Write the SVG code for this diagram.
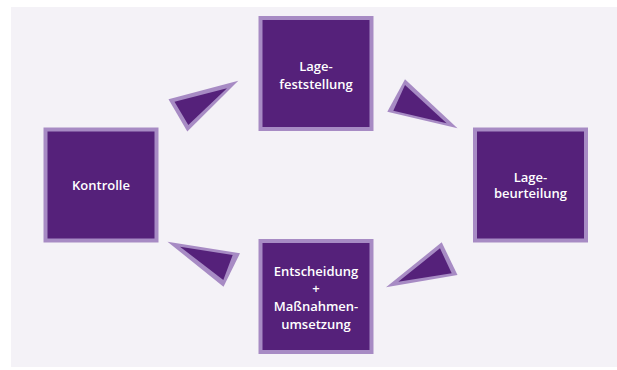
<svg xmlns="http://www.w3.org/2000/svg" width="617" height="370" viewBox="0 0 617 370">
  <style>
    .box { fill: #55217a; stroke: #a78bc4; stroke-width: 4; }
    .tri-o { fill: #a78bc4; }
    .tri-i { fill: #55217a; }
    .lbl { fill: #ffffff; font-family: "Open Sans", "Liberation Sans", sans-serif; font-size: 13px; font-weight: 600; text-anchor: middle; }
  </style>
  <rect x="0" y="0" width="617" height="370" fill="#ffffff"/>
  <rect x="11" y="7" width="606" height="360" fill="#f4f2f7"/>

  <g id="connectors">
    <g id="c-kontrolle-lagefeststellung">
      <polygon class="tri-o" points="238.3,80.7 168.5,99.3 187.3,131.5"/>
      <polygon class="tri-i" points="227,88.3 174.5,101.7 188.3,125"/>
    </g>
    <g id="c-lagefeststellung-lagebeurteilung">
      <polygon class="tri-o" points="405,79.3 387.3,111.7 457.5,128.3"/>
      <polygon class="tri-i" points="405,85 393.3,110.7 446.7,123.3"/>
    </g>
    <g id="c-lagebeurteilung-entscheidung">
      <polygon class="tri-o" points="386,287.3 441.7,242.3 457.5,275"/>
      <polygon class="tri-i" points="398.3,281.7 440,248.3 451.7,273.3"/>
    </g>
    <g id="c-entscheidung-kontrolle">
      <polygon class="tri-o" points="167.5,241.7 240,253.3 223.5,286.7"/>
      <polygon class="tri-i" points="180,246.7 232.7,255 223.3,280"/>
    </g>
  </g>

  <g id="lagefeststellung">
    <rect class="box" x="260.5" y="18" width="111" height="111"/>
    <text class="lbl" x="316" y="70.5">Lage-</text>
    <text class="lbl" x="316" y="88.5">feststellung</text>
  </g>

  <g id="kontrolle">
    <rect class="box" x="45.5" y="129.5" width="111" height="111"/>
    <text class="lbl" x="101" y="189.5">Kontrolle</text>
  </g>

  <g id="lagebeurteilung">
    <rect class="box" x="475" y="129.5" width="111" height="111"/>
    <text class="lbl" x="530.5" y="181.5">Lage-</text>
    <text class="lbl" x="530.5" y="198">beurteilung</text>
  </g>

  <g id="entscheidung">
    <rect class="box" x="260.5" y="241" width="111" height="111"/>
    <text class="lbl" x="316" y="275.7">Entscheidung</text>
    <text class="lbl" x="316" y="293.3">+</text>
    <text class="lbl" x="316" y="311">Maßnahmen-</text>
    <text class="lbl" x="316" y="328.7">umsetzung</text>
  </g>
</svg>
